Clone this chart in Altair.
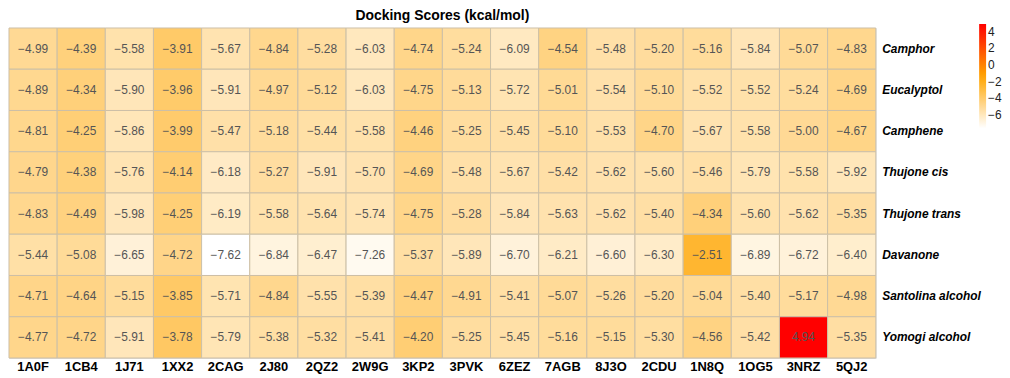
import altair as alt
import pandas as pd

cols = ["1A0F","1CB4","1J71","1XX2","2CAG","2J80","2QZ2","2W9G","3KP2","3PVK",
        "6ZEZ","7AGB","8J3O","2CDU","1N8Q","1OG5","3NRZ","5QJ2"]
rows = ["Camphor","Eucalyptol","Camphene","Thujone cis","Thujone trans",
        "Davanone","Santolina alcohol","Yomogi alcohol"]
camphor = [-4.99,-4.39,-5.58,-3.91,-5.67,-4.84,-5.28,-6.03,-4.74,-5.24,-6.09,-4.54,-5.48,-5.20,-5.16,-5.84,-5.07,-4.83]
eucalyptol = [-4.89,-4.34,-5.90,-3.96,-5.91,-4.97,-5.12,-6.03,-4.75,-5.13,-5.72,-5.01,-5.54,-5.10,-5.52,-5.52,-5.24,-4.69]
camphene = [-4.81,-4.25,-5.86,-3.99,-5.47,-5.18,-5.44,-5.58,-4.46,-5.25,-5.45,-5.10,-5.53,-4.70,-5.67,-5.58,-5.00,-4.67]
thujone_cis = [-4.79,-4.38,-5.76,-4.14,-6.18,-5.27,-5.91,-5.70,-4.69,-5.48,-5.67,-5.42,-5.62,-5.60,-5.46,-5.79,-5.58,-5.92]
thujone_trans = [-4.83,-4.49,-5.98,-4.25,-6.19,-5.58,-5.64,-5.74,-4.75,-5.28,-5.84,-5.63,-5.62,-5.40,-4.34,-5.60,-5.62,-5.35]
davanone = [-5.44,-5.08,-6.65,-4.72,-7.62,-6.84,-6.47,-7.26,-5.37,-5.89,-6.70,-6.21,-6.60,-6.30,-2.51,-6.89,-6.72,-6.40]
santolina = [-4.71,-4.64,-5.15,-3.85,-5.71,-4.84,-5.55,-5.39,-4.47,-4.91,-5.41,-5.07,-5.26,-5.20,-5.04,-5.40,-5.17,-4.98]
yomogi = [-4.77,-4.72,-5.91,-3.78,-5.79,-5.38,-5.32,-5.41,-4.20,-5.25,-5.45,-5.16,-5.15,-5.30,-4.56,-5.42,4.94,-5.35]
series = [camphor, eucalyptol, camphene, thujone_cis, thujone_trans, davanone, santolina, yomogi]

records = []
for r, vals in zip(rows, series):
    for c, v in zip(cols, vals):
        records.append({"compound": r, "target": c, "score": v, "label": f"{v:.2f}".replace("-", "\u2212")})
df = pd.DataFrame(records)

vmin, vmax = -7.62, 4.94
vmid = (vmin + vmax) / 2

base = alt.Chart(df).encode(
    x=alt.X("target:N", sort=cols, title=None,
            axis=alt.Axis(orient="bottom", labelAngle=0, labelFontWeight="bold",
                          labelFontSize=13, labelColor="#000", ticks=False,
                          domain=False, labelPadding=3)),
    y=alt.Y("compound:N", sort=rows, title=None,
            axis=alt.Axis(orient="right", labelFontWeight="bold", labelFontStyle="italic",
                          labelFontSize=12, labelColor="#000", ticks=False,
                          domain=False, labelPadding=6)),
)

rects = base.mark_rect(stroke="#cdbfa6", strokeWidth=1).encode(
    color=alt.Color("score:Q",
                    scale=alt.Scale(domain=[vmin, vmid, vmax],
                                    range=["#ffffff", "#ffa500", "#ff0000"],
                                    interpolate="rgb"),
                    legend=alt.Legend(title=None, orient="none", legendX=976, legendY=-4,
                                      gradientLength=105, gradientThickness=7,
                                      values=[-6, -4, -2, 0, 2, 4], labelFontSize=12,
                                      labelColor="#222", tickCount=6,
                                      gradientStrokeWidth=0))
)

texts = base.mark_text(fontSize=12, color="#555").encode(text="label:N")

chart = (rects + texts).properties(
    width=872, height=332,
    padding={"left": 0, "top": 0, "right": 0, "bottom": 0},
    title=alt.TitleParams("Docking Scores (kcal/mol)", fontSize=14, fontWeight="bold",
                          anchor="middle", offset=1, color="#000"),
).configure_view(stroke=None).configure(font="Liberation Sans")

chart.save("out.html", embed_options={"renderer": "svg", "actions": False})
